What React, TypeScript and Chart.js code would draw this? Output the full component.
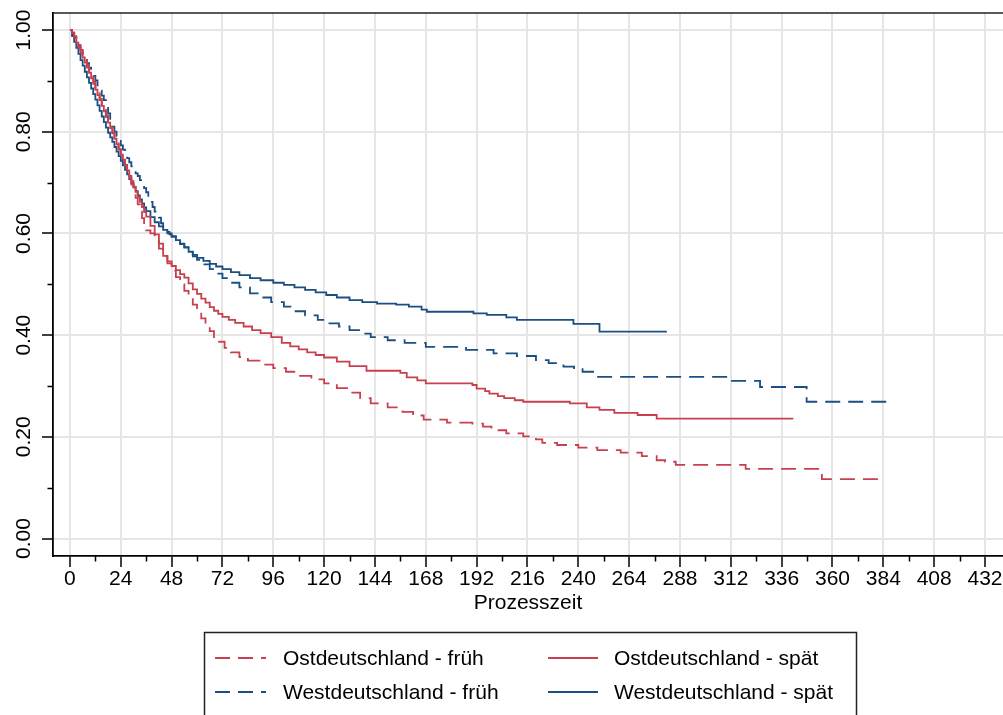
import React, { useEffect, useRef } from 'react';
import { Chart, registerables } from 'chart.js';

Chart.register(...registerables);

// ---- axis ticks ----
const xTicks = [0, 24, 48, 72, 96, 120, 144, 168, 192, 216, 240, 264, 288, 312, 336, 360, 384, 408, 432];
const xMinorTicks = [12, 36, 60, 84, 108, 132, 156, 180, 204, 228, 252, 276, 300, 324, 348, 372, 396, 420];
const yTicks = [0, 0.2, 0.4, 0.6, 0.8, 1.0];
const yMinorTicks = [0.1, 0.3, 0.5, 0.7, 0.9];
const xTitle = 'Prozesszeit';

// ---- series labels ----
const seriesLabels = ['Ostdeutschland - früh', 'Ostdeutschland - spät', 'Westdeutschland - früh', 'Westdeutschland - spät'];

// ---- Ostdeutschland - früh (dashed red) ----
const ostFruehT = [0, 1, 2, 3, 4, 5, 6, 7, 8, 9, 10, 11, 12, 13, 14, 15, 16, 17, 18, 19, 20, 21, 22, 23, 24, 25, 26, 27, 28, 29, 30, 31, 32, 33, 34, 35, 36, 38, 40, 42, 44, 46, 48, 50, 52, 54, 56, 58, 60, 62, 64, 66, 68, 70, 73, 76, 80, 84, 90, 96, 102, 108, 114, 120, 126, 132, 137, 142, 150, 157, 162, 167, 178, 190, 195, 199, 206, 214, 220, 223, 230, 240, 249, 260, 270, 277, 281, 286, 319, 355, 382.4];
const ostFruehS = [1, 0.995, 0.988, 0.98, 0.971, 0.961, 0.951, 0.941, 0.931, 0.92, 0.909, 0.898, 0.887, 0.876, 0.865, 0.854, 0.843, 0.832, 0.821, 0.81, 0.799, 0.788, 0.777, 0.766, 0.755, 0.744, 0.733, 0.721, 0.709, 0.696, 0.683, 0.67, 0.657, 0.643, 0.63, 0.617, 0.606, 0.6, 0.585, 0.57, 0.555, 0.541, 0.527, 0.514, 0.5, 0.487, 0.474, 0.46, 0.447, 0.433, 0.42, 0.408, 0.396, 0.387, 0.375, 0.366, 0.357, 0.35, 0.342, 0.335, 0.328, 0.32, 0.313, 0.305, 0.296, 0.287, 0.276, 0.266, 0.258, 0.249, 0.242, 0.234, 0.228, 0.226, 0.22, 0.213, 0.207, 0.201, 0.195, 0.188, 0.184, 0.179, 0.174, 0.169, 0.162, 0.154, 0.151, 0.145, 0.137, 0.117, 0.117];

// ---- Ostdeutschland - spät (solid red) ----
const ostSpaetT = [0, 1, 2, 3, 4, 5, 6, 7, 8, 9, 10, 11, 12, 13, 14, 15, 16, 17, 18, 19, 20, 21, 22, 23, 24, 25, 26, 27, 28, 29, 30, 31, 32, 33, 34, 35, 36, 38, 40, 42, 44, 46, 48, 50, 52, 54, 56, 58, 60, 62, 64, 66, 68, 70, 72, 75, 78, 82, 86, 90, 95, 100, 104, 108, 112, 116, 120, 126, 132, 140, 156, 159, 164, 168, 190, 192, 196, 198, 202, 205, 210, 214, 236, 244, 250, 257, 268, 277, 341.5];
const ostSpaetS = [1, 0.995, 0.985, 0.975, 0.965, 0.955, 0.946, 0.936, 0.926, 0.916, 0.905, 0.894, 0.883, 0.872, 0.862, 0.851, 0.84, 0.829, 0.818, 0.807, 0.797, 0.786, 0.775, 0.765, 0.755, 0.745, 0.735, 0.724, 0.713, 0.703, 0.692, 0.682, 0.672, 0.662, 0.652, 0.642, 0.633, 0.615, 0.598, 0.58, 0.556, 0.545, 0.536, 0.528, 0.52, 0.513, 0.502, 0.49, 0.481, 0.472, 0.464, 0.455, 0.448, 0.442, 0.436, 0.43, 0.424, 0.417, 0.41, 0.404, 0.396, 0.385, 0.378, 0.372, 0.366, 0.361, 0.356, 0.348, 0.339, 0.33, 0.326, 0.317, 0.311, 0.305, 0.302, 0.295, 0.29, 0.285, 0.28, 0.276, 0.272, 0.269, 0.266, 0.258, 0.253, 0.247, 0.243, 0.236, 0.236];

// ---- Westdeutschland - früh (dashed blue) ----
const westFruehT = [0, 1, 2, 3, 4, 5, 6, 7, 8, 9, 10, 11, 12, 13, 14, 15, 16, 17, 18, 19, 20, 21, 22, 23, 24, 25, 26, 27, 28, 29, 30, 31, 32, 33, 34, 35, 36, 37, 38, 39, 40, 41, 42, 43, 44, 45, 46, 47, 48, 50, 52, 54, 56, 58, 60, 63, 66, 69, 72, 76, 80, 85, 90, 95, 101, 106, 111, 117, 122, 127, 132, 137, 142, 150, 158, 168, 187, 200, 211, 220, 226, 233, 238, 242, 247, 311.7, 325.8, 347.8, 387];
const westFruehS = [1, 0.993, 0.985, 0.977, 0.968, 0.96, 0.951, 0.943, 0.935, 0.926, 0.918, 0.91, 0.901, 0.891, 0.881, 0.871, 0.862, 0.85, 0.836, 0.823, 0.81, 0.8, 0.791, 0.782, 0.773, 0.765, 0.757, 0.748, 0.74, 0.732, 0.725, 0.718, 0.713, 0.705, 0.697, 0.689, 0.681, 0.671, 0.662, 0.652, 0.643, 0.637, 0.631, 0.62, 0.613, 0.606, 0.603, 0.598, 0.594, 0.587, 0.579, 0.572, 0.563, 0.555, 0.548, 0.539, 0.53, 0.521, 0.512, 0.503, 0.494, 0.482, 0.474, 0.465, 0.456, 0.447, 0.439, 0.43, 0.423, 0.417, 0.41, 0.403, 0.396, 0.39, 0.385, 0.377, 0.371, 0.364, 0.359, 0.351, 0.345, 0.338, 0.333, 0.328, 0.318, 0.31, 0.298, 0.269, 0.269];

// ---- Westdeutschland - spät (solid blue) ----
const westSpaetT = [0, 1, 2, 3, 4, 5, 6, 7, 8, 9, 10, 11, 12, 13, 14, 15, 16, 17, 18, 19, 20, 21, 22, 23, 24, 25, 26, 27, 28, 29, 30, 31, 32, 33, 34, 35, 36, 38, 40, 42, 44, 46, 48, 50, 52, 54, 56, 58, 60, 63, 66, 69, 72, 76, 80, 85, 90, 96, 101, 106, 111, 116, 121, 126, 132, 138, 145, 154, 160, 166, 168.5, 190.5, 196.8, 206, 211, 237.7, 250, 281.8];
const westSpaetS = [1, 0.988, 0.977, 0.965, 0.953, 0.941, 0.93, 0.918, 0.907, 0.896, 0.885, 0.874, 0.863, 0.852, 0.841, 0.83, 0.819, 0.808, 0.798, 0.789, 0.78, 0.77, 0.761, 0.752, 0.743, 0.734, 0.725, 0.716, 0.707, 0.699, 0.691, 0.683, 0.675, 0.667, 0.659, 0.651, 0.644, 0.632, 0.622, 0.614, 0.607, 0.6, 0.594, 0.587, 0.58, 0.573, 0.564, 0.558, 0.552, 0.546, 0.54, 0.535, 0.53, 0.524, 0.518, 0.512, 0.508, 0.503, 0.499, 0.494, 0.489, 0.484, 0.479, 0.474, 0.469, 0.465, 0.462, 0.46, 0.456, 0.45, 0.446, 0.443, 0.44, 0.435, 0.43, 0.422, 0.407, 0.407];

const RED = '#c8404f';
const BLUE = '#1b4f82';
const DASH = [15, 8];
const FONT = 'Liberation Sans, Arial, Helvetica, sans-serif';

const toPoints = (t: number[], s: number[]) => t.map((x, i) => ({ x, y: s[i] }));

const decorPlugin = {
  id: 'decor',
  afterDraw(chart: any) {
    const { ctx, chartArea, scales } = chart;
    const xs = scales.x;
    const ys = scales.y;
    ctx.save();
    // top frame line
    ctx.strokeStyle = '#222';
    ctx.lineWidth = 1.5;
    ctx.beginPath();
    ctx.moveTo(chartArea.left, chartArea.top);
    ctx.lineTo(chartArea.right, chartArea.top);
    ctx.stroke();
    // minor ticks
    ctx.strokeStyle = '#000';
    ctx.lineWidth = 1.5;
    ctx.beginPath();
    xMinorTicks.forEach((v) => {
      const px = Math.round(xs.getPixelForValue(v)) + 0.5;
      ctx.moveTo(px, chartArea.bottom);
      ctx.lineTo(px, chartArea.bottom + 5.5);
    });
    yMinorTicks.forEach((v) => {
      const py = Math.round(ys.getPixelForValue(v)) + 0.5;
      ctx.moveTo(chartArea.left, py);
      ctx.lineTo(chartArea.left - 5.5, py);
    });
    ctx.stroke();

    // legend box
    const bx = 204.5, by = 632.5, bw = 652, bh = 110;
    ctx.strokeStyle = '#222';
    ctx.lineWidth = 1.5;
    ctx.strokeRect(bx, by, bw, bh);

    const rows = [658, 692];
    const cols = [
      { x0: 215, x1: 266, tx: 283 },
      { x0: 548, x1: 598, tx: 614 },
    ];
    const entries = [
      { label: seriesLabels[0], color: RED, dash: DASH, col: 0, row: 0 },
      { label: seriesLabels[1], color: RED, dash: [], col: 1, row: 0 },
      { label: seriesLabels[2], color: BLUE, dash: DASH, col: 0, row: 1 },
      { label: seriesLabels[3], color: BLUE, dash: [], col: 1, row: 1 },
    ];
    ctx.font = `21px ${FONT}`;
    ctx.textBaseline = 'middle';
    ctx.textAlign = 'left';
    entries.forEach((e) => {
      const c = cols[e.col];
      const y = rows[e.row];
      ctx.strokeStyle = e.color;
      ctx.lineWidth = 1.8;
      ctx.setLineDash(e.dash);
      ctx.beginPath();
      ctx.moveTo(c.x0, y);
      ctx.lineTo(c.x1, y);
      ctx.stroke();
      ctx.setLineDash([]);
      ctx.fillStyle = '#000';
      ctx.fillText(e.label, c.tx, y + 1);
    });
    ctx.restore();
  },
};

export default function App() {
  const canvasRef = useRef<HTMLCanvasElement | null>(null);

  useEffect(() => {
    const canvas = canvasRef.current;
    if (!canvas) return;
    const mk = (label: string, t: number[], s: number[], color: string, dash: number[]) => ({
      label,
      data: toPoints(t, s),
      borderColor: color,
      backgroundColor: color,
      borderWidth: 1.8,
      borderDash: dash,
      stepped: true,
      pointRadius: 0,
      fill: false,
    });
    const chart = new Chart(canvas, {
      type: 'line',
      data: {
        datasets: [
          mk(seriesLabels[0], ostFruehT, ostFruehS, RED, DASH),
          mk(seriesLabels[1], ostSpaetT, ostSpaetS, RED, []),
          mk(seriesLabels[2], westFruehT, westFruehS, BLUE, DASH),
          mk(seriesLabels[3], westSpaetT, westSpaetS, BLUE, []),
        ] as any,
      },
      options: {
        animation: false,
        responsive: false,
        layout: { padding: { left: 0, right: 0, top: 13, bottom: 99 } },
        plugins: { legend: { display: false }, tooltip: { enabled: false } },
        scales: {
          x: {
            type: 'linear',
            min: -8,
            max: 440.5,
            afterBuildTicks: (s: any) => {
              s.ticks = xTicks.map((v) => ({ value: v }));
            },
            afterFit: (s: any) => {
              s.height = 60;
            },
            ticks: {
              autoSkip: false,
              maxRotation: 0,
              padding: 0,
              color: '#000',
              font: { size: 21, family: FONT },
              callback: (v: any) => String(v),
            },
            grid: {
              color: '#e6e6e6',
              lineWidth: 2,
              tickLength: 11,
              tickColor: '#000',
              tickWidth: 1.5,
            },
            border: { display: true, color: '#000', width: 1.8 },
            title: {
              display: true,
              text: xTitle,
              color: '#000',
              font: { size: 21, family: FONT },
              padding: { top: 0, bottom: 0 },
            },
          },
          y: {
            type: 'linear',
            min: -0.0343,
            max: 1.0335,
            afterBuildTicks: (s: any) => {
              s.ticks = yTicks.map((v) => ({ value: v }));
            },
            afterFit: (s: any) => {
              s.width = 53;
            },
            ticks: {
              autoSkip: false,
              minRotation: 90,
              maxRotation: 90,
              crossAlign: 'center',
              padding: -2.4,
              color: '#000',
              font: { size: 21, family: FONT },
              callback: (v: any) => Number(v).toFixed(2),
            },
            grid: {
              color: '#e6e6e6',
              lineWidth: 2,
              tickLength: 11,
              tickColor: '#000',
              tickWidth: 1.5,
            },
            border: { display: true, color: '#000', width: 1.8 },
          },
        },
      } as any,
      plugins: [decorPlugin],
    });
    return () => chart.destroy();
  }, []);

  return (
    <div style={{ position: 'fixed', left: 0, top: 0, width: 1003, height: 715, background: '#fff' }}>
      <canvas ref={canvasRef} width={1003} height={715} style={{ display: 'block', width: 1003, height: 715 }} />
    </div>
  );
}
